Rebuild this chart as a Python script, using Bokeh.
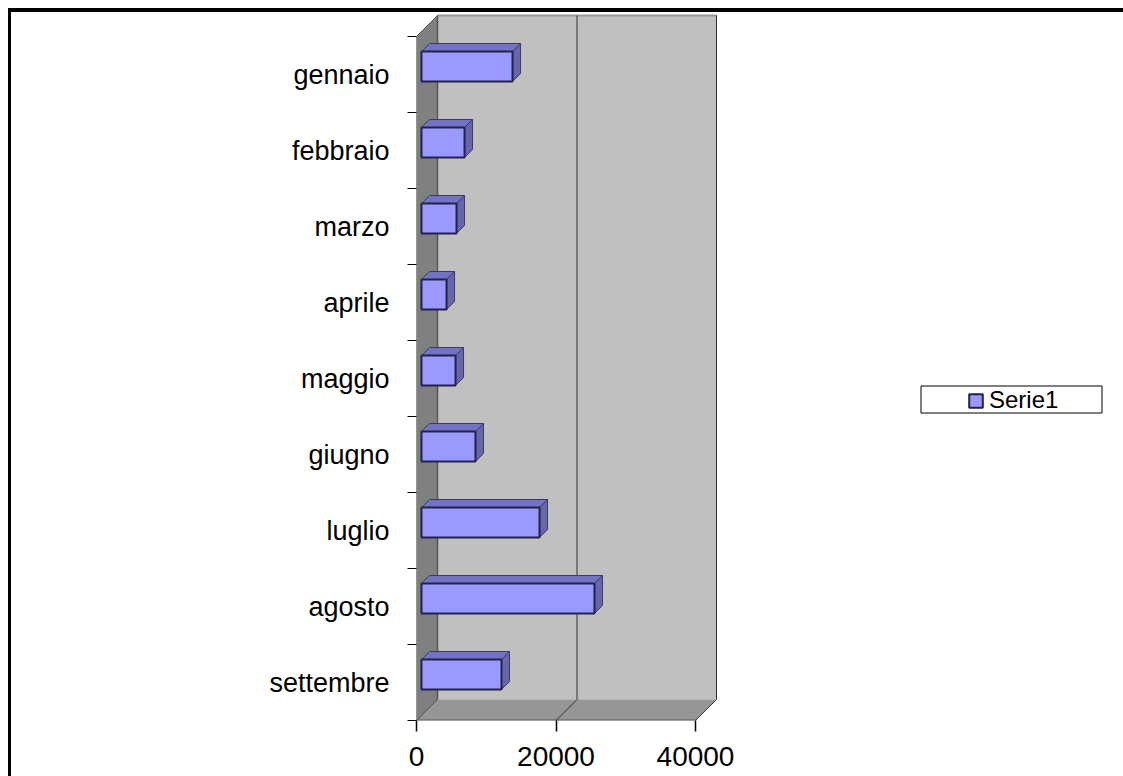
from bokeh.plotting import figure
from bokeh.models import (Range1d, FixedTicker, BasicTickFormatter, BoxAnnotation,
                          Legend, LegendItem, ColumnDataSource)
from bokeh.embed import file_html
from bokeh.resources import INLINE

months = ["gennaio", "febbraio", "marzo", "aprile", "maggio",
          "giugno", "luglio", "agosto", "settembre"]
serie1 = [13050, 6170, 5020, 3590, 4880, 7740, 16920, 24800, 11470]
x_ticks = [0, 20000, 40000]
series_name = "Serie1"

FONT = "Liberation Sans"
X_PER_PX = 20000 / 139.5
Y_PER_PX = 1 / 76.0
DX = 21 * X_PER_PX      # 3D depth of the walls
DY = 21 * Y_PER_PX
BDX = 8 * X_PER_PX      # 3D depth of the bars
BDY = 8 * Y_PER_PX
BAR_H = 30 * Y_PER_PX
BAR_X0 = 5 * X_PER_PX
BAR_SHIFT = -8 * Y_PER_PX

n = len(months)
y_top, y_bot = -0.5, n - 0.5
x_max = x_ticks[-1]

# the canvas starts at (11, 12) of the page, inside a margin and a border
W, H = 1115, 768
LEFT = 405
p = figure(width=W, height=H, output_backend="svg", toolbar_location=None,
           x_range=Range1d(0, (W - LEFT) * X_PER_PX),
           y_range=Range1d(y_bot, y_top - 24 * Y_PER_PX),
           min_border_left=LEFT, min_border_right=0, min_border_top=0, min_border_bottom=60,
           outline_line_color=None, background_fill_color="white", border_fill_color="white")
p.grid.visible = False
p.styles = {"margin-left": "8px", "margin-top": "8px",
            "border-top": "4px solid black", "border-left": "3px solid black"}

# walls
p.patch([0, DX, DX, 0], [y_top, y_top - DY, y_bot - DY, y_bot],
        fill_color="#808080", line_color="#4d4d4d", line_width=1)
p.patch([DX, x_max + DX, x_max + DX, DX], [y_top - DY, y_top - DY, y_bot - DY, y_bot - DY],
        fill_color="#c0c0c0", line_color=None)
p.patch([0, x_max, x_max + DX, DX], [y_bot, y_bot, y_bot - DY, y_bot - DY],
        fill_color="#969696", line_color=None)
p.segment([0], [y_bot], [x_max], [y_bot], line_color="#5a5a5a", line_width=2)
p.segment([DX], [y_top - DY], [x_max + DX], [y_top - DY], line_color="#9a9a9a", line_width=2)
p.segment([DX], [y_top - DY], [DX], [y_bot - DY], line_color="#555555", line_width=1.5)
p.segment([x_max + DX], [y_top - DY], [x_max + DX], [y_bot - DY], line_color="#333333", line_width=1)
p.segment([0], [y_top], [DX], [y_top - DY], line_color="#555555", line_width=1)

# gridlines, running over the floor and up the back wall
for t in x_ticks[1:]:
    p.line([t, t + DX, t + DX], [y_bot, y_bot - DY, y_top - DY], line_color="#333333", line_width=1)
p.line([0, DX], [y_bot, y_bot - DY], line_color="#555555", line_width=1)

# bars
x0 = [BAR_X0] * n
x1 = [BAR_X0 + v for v in serie1]
yc = [i + BAR_SHIFT for i in range(n)]
yt = [y - BAR_H / 2 for y in yc]
yb = [y + BAR_H / 2 for y in yc]

top_xs = [[a, a + BDX, b + BDX, b] for a, b in zip(x0, x1)]
top_ys = [[t, t - BDY, t - BDY, t] for t in yt]
side_xs = [[b, b + BDX, b + BDX, b] for b in x1]
side_ys = [[t, t - BDY, u - BDY, u] for t, u in zip(yt, yb)]

p.patches(top_xs, top_ys, fill_color="#7373c4", line_color="#3a3a66", line_width=1)
p.patches(side_xs, side_ys, fill_color="#6666aa", line_color="#3a3a66", line_width=1)
src = ColumnDataSource(dict(y=yc, left=x0, right=x1))
front = p.hbar(y="y", left="left", right="right", height=BAR_H, source=src,
               fill_color="#9999ff", line_color="#22224a", line_width=2)

# axes
xa = p.xaxis[0]
xa.ticker = FixedTicker(ticks=x_ticks)
xa.formatter = BasicTickFormatter(use_scientific=False)
xa.axis_line_color = None
xa.major_tick_out = 11
xa.major_tick_in = 0
xa.major_tick_line_color = "black"
xa.major_tick_line_width = 1.5
xa.minor_tick_line_color = None
xa.major_label_text_font = FONT
xa.major_label_text_font_size = "28px"
xa.major_label_text_color = "black"
xa.major_label_standoff = 15

ya = p.yaxis[0]
ya.ticker = FixedTicker(ticks=list(range(n)), minor_ticks=[i - 0.5 for i in range(n + 1)])
ya.major_label_overrides = {i: m for i, m in enumerate(months)}
ya.axis_line_color = None
ya.major_tick_line_color = None
ya.major_tick_out = 0
ya.major_tick_in = 0
ya.minor_tick_line_color = "black"
ya.minor_tick_line_width = 1
ya.minor_tick_out = 9
ya.minor_tick_in = 0
ya.major_label_text_font = FONT
ya.major_label_text_font_size = "27px"
ya.major_label_text_color = "black"
ya.major_label_standoff = 18

# legend box and legend
p.add_layout(BoxAnnotation(left=906.5, right=1087.5, top=369.5, bottom=396.5, left_units="canvas",
                           right_units="canvas", top_units="canvas", bottom_units="canvas",
                           fill_color="white", fill_alpha=1, line_color="black", line_width=1,
                           line_alpha=1, editable=False))
legend = Legend(items=[LegendItem(label=series_name, renderers=[front])],
                location=(551, 306), padding=5, margin=0,
                glyph_width=17, glyph_height=17, label_standoff=5,
                label_text_font=FONT, label_text_font_size="24px", label_text_color="black",
                label_height=16, border_line_color=None,
                background_fill_alpha=0)
p.add_layout(legend, "center")

open("out.html", "w").write(file_html(p, INLINE))
